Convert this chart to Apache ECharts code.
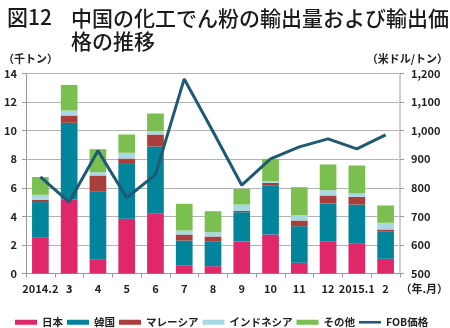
<!DOCTYPE html>
<html><head><meta charset="utf-8">
<script src="https://cdn.jsdelivr.net/npm/echarts@6/dist/echarts.min.js"></script>
<style>html,body{margin:0;padding:0;background:#fff}#c{width:450px;height:328px}</style>
</head><body><div id="c"></div>
<script>
const categories = ['2014.2','3','4','5','6','7','8','9','10','11','12','2015.1','2'];
const japan     = [2.50,5.18,1.00,3.83,4.18,0.58,0.51,2.24,2.73,0.75,2.26,2.08,1.03];
const korea     = [2.50,5.37,4.72,3.84,4.71,1.73,1.71,2.05,3.45,2.56,2.64,2.75,1.93];
const malaysia  = [0.16,0.51,1.14,0.38,0.84,0.42,0.37,0.10,0.17,0.40,0.56,0.54,0.12];
const indonesia = [0.35,0.35,0.23,0.40,0.23,0.28,0.30,0.44,0.11,0.37,0.37,0.23,0.47];
const other     = [1.24,1.79,1.61,1.28,1.24,1.87,1.47,1.10,1.57,1.96,1.80,1.96,1.21];
const fob       = [838,750,930,765,846,1181,997,809,901,943,971,936,985];
const seriesNames = ['日本','韓国','マレーシア','インドネシア','その他','FOB価格'];
const leftTicks = {min:0, max:14, interval:2};
const rightTicks = {min:500, max:1200, interval:100};

const FONT = '"Noto Sans CJK JP", "Noto Sans", sans-serif';
const colors = ['#E0276A','#02849B','#A93E3A','#A7D8E4','#7ABF4F','#1E5A73'];
const chart = echarts.init(document.getElementById('c'), null, {renderer:'canvas'});
const barData = [japan, korea, malaysia, indonesia, other];
const series = barData.map((d,i)=>({
  name: seriesNames[i], type:'bar', stack:'s', data:d, barWidth:'58%',
  itemStyle:{color:colors[i]}
}));
series.push({
  name: seriesNames[5], type:'line', yAxisIndex:1, data:fob, symbol:'none',
  lineStyle:{color:colors[5], width:3}, itemStyle:{color:colors[5]}, z:5
});
const legendData = seriesNames.map((n,i)=> i===5
  ? {name:n, icon:'path://M0,0 L22,0 L22,2.6 L0,2.6 Z'}
  : {name:n, icon:'rect'});
chart.setOption({
  animation:false,
  textStyle:{fontFamily:FONT},
  title:[
    {text:'図12', left:2, top:2, textStyle:{fontFamily:FONT, fontSize:21, fontWeight:500, color:'#1a1a1a'}},
    {text:'中国の化工でん粉の輸出量および輸出価\n格の推移', left:66, top:2,
     textStyle:{fontFamily:FONT, fontSize:21, fontWeight:500, color:'#1a1a1a', lineHeight:23}}
  ],
  graphic:[
    {type:'text', left:3, top:53, style:{text:'（千トン）', font:'bold 11px '+FONT, fill:'#222'}},
    {type:'text', right:2, top:53, style:{text:'（米ドル/トン）', font:'bold 11px '+FONT, fill:'#222'}},
    {type:'text', right:2, top:283, style:{text:'（年.月）', font:'bold 11px '+FONT, fill:'#222'}}
  ],
  legend:{
    data:legendData, left:10, top:312, itemWidth:22, itemHeight:5, itemGap:4,
    textStyle:{fontFamily:FONT, fontSize:10.5, fontWeight:'bold', color:'#222'}
  },
  grid:{left:26, right:50, top:73.5, bottom:54.5},
  xAxis:{
    type:'category', data:categories,
    axisLine:{lineStyle:{color:'#999', width:1}},
    axisTick:{show:true, length:4, lineStyle:{color:'#999'}},
    axisLabel:{fontFamily:FONT, fontSize:11, fontWeight:'bold', color:'#222', margin:10, interval:0}
  },
  yAxis:[
    {type:'value', min:leftTicks.min, max:leftTicks.max, interval:leftTicks.interval,
     axisLine:{show:true, lineStyle:{color:'#999'}},
     axisTick:{show:true, length:4, lineStyle:{color:'#999'}},
     splitLine:{lineStyle:{color:'#b3b3b3', width:1}},
     axisLabel:{fontFamily:FONT, fontSize:11, fontWeight:'bold', color:'#222', margin:9}},
    {type:'value', position:'right', min:rightTicks.min, max:rightTicks.max, interval:rightTicks.interval,
     axisLine:{show:true, lineStyle:{color:'#cfcfcf', width:2}},
     axisTick:{show:true, length:4, lineStyle:{color:'#999'}},
     splitLine:{show:false},
     axisLabel:{fontFamily:FONT, fontSize:11, fontWeight:'bold', color:'#222', margin:11,
       formatter:v=>v.toLocaleString('en-US')}}
  ],
  series:series
});
</script></body></html>
